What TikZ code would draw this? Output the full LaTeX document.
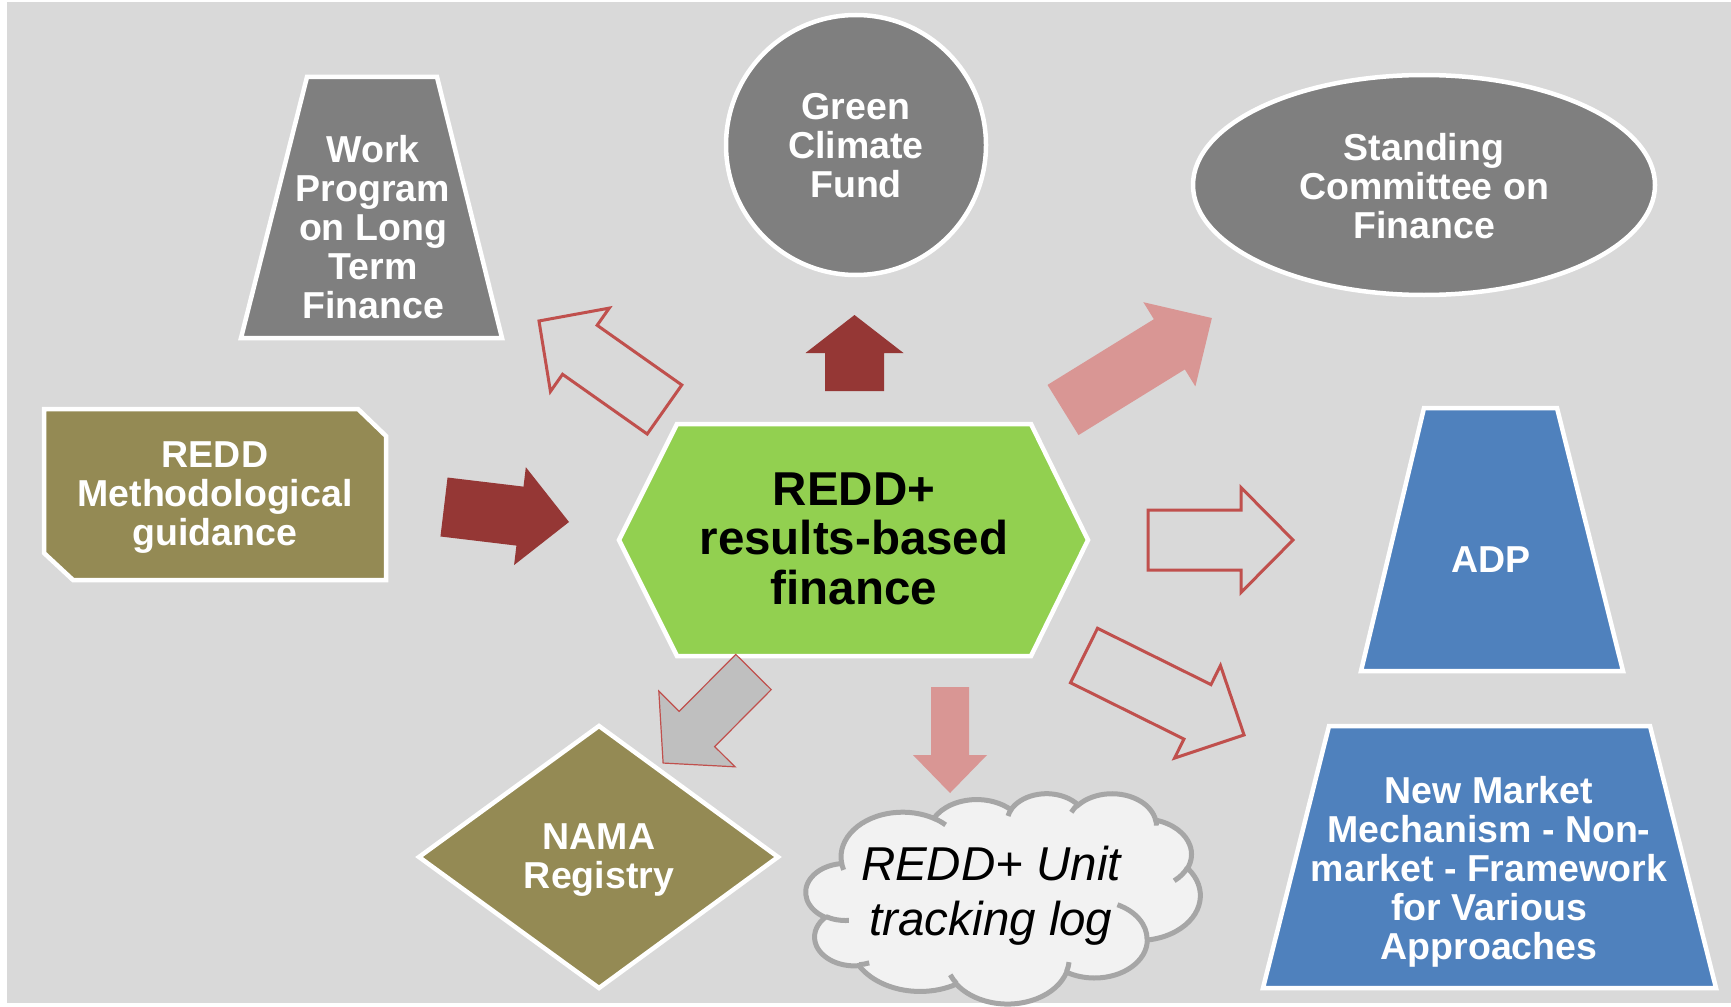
\documentclass[tikz,border=0pt]{standalone}
\usepackage{fontspec}
\setmainfont{Liberation Sans}
\usetikzlibrary{shapes.geometric}
\definecolor{bgc}{HTML}{D9D9D9}
\definecolor{grayshape}{HTML}{7F7F7F}
\definecolor{olive}{HTML}{948A54}
\definecolor{hexgreen}{HTML}{92D050}
\definecolor{bluebox}{HTML}{4F81BD}
\definecolor{darkred}{HTML}{953735}
\definecolor{pinkarr}{HTML}{D99694}
\definecolor{redline}{HTML}{C0504D}
\definecolor{grayarr}{HTML}{BFBFBF}
\definecolor{cloudfill}{HTML}{F2F2F2}
\definecolor{cloudline}{HTML}{A6A6A6}
% block arrow: #1 style, #2 x, #3 y, #4 angle, #5 length, #6 head length, #7 shaft half width, #8 head half width
\newcommand\blockarr[8]{%
  \path[#1, shift={(#2,#3)}, rotate=#4] (0,#7) -- ({#5-#6},#7) -- ({#5-#6},#8) -- (#5,0) -- ({#5-#6},-#8) -- ({#5-#6},-#7) -- (0,-#7) -- cycle;}
% elliptic arc with visual angles: #1 wR, #2 hR, #3 start, #4 sweep (degrees)
\newcommand\cldarc[4]{%
  \pgfextra{%
    \pgfmathparse{atan2((#1)*sin(#3),(#2)*cos(#3))}\global\let\cldta\pgfmathresult
    \pgfmathparse{atan2((#1)*sin((#3)+(#4)),(#2)*cos((#3)+(#4)))}\global\let\cldtb\pgfmathresult
    \pgfmathparse{mod(\cldtb-\cldta+720,360)}\global\let\cldtd\pgfmathresult
  }
  arc[start angle=\cldta, delta angle=\cldtd, x radius=#1, y radius=#2]}
\begin{document}
\begin{tikzpicture}[x=1pt,y=-1pt,
  whiteedge/.style={draw=white, line width=4.5pt, line join=miter},
  lbl/.style={text=white, font=\fontsize{37.5}{39}\selectfont\bfseries, align=center, inner sep=0pt},
  outl/.style={draw=redline, line width=3pt, line join=miter},
  grayout/.style={fill=grayarr, draw=redline, line width=1.2pt, line join=miter},
  cloudedge/.style={draw=cloudline, line width=5pt}]
\useasboundingbox (0,0) rectangle (1731,1006);
\fill[white] (0,0) rectangle (1731,1006);
\fill[bgc] (7,2) rectangle (1731,1003);

% shapes
\draw[whiteedge, fill=grayshape] (307,77) -- (437,77) -- (502,338) -- (241,338) -- cycle;
\draw[whiteedge, fill=olive] (44,409) -- (358,409) -- (386,436) -- (386,580) -- (73,580) -- (44,553) -- cycle;
\draw[whiteedge, fill=grayshape] (856,145) circle [radius=130pt];
\draw[whiteedge, fill=grayshape] (1424,185) ellipse [x radius=231pt, y radius=110pt];
\draw[whiteedge, fill=hexgreen] (619,540) -- (677,424) -- (1031,424) -- (1088,540) -- (1031,656) -- (677,656) -- cycle;
\draw[whiteedge, fill=bluebox] (1424,408) -- (1557,408) -- (1623,671) -- (1361,671) -- cycle;
\draw[whiteedge, fill=bluebox] (1329,726) -- (1650,726) -- (1716,988) -- (1263,988) -- cycle;
\draw[whiteedge, fill=olive] (599,726) -- (778,857) -- (599,988) -- (419,857) -- cycle;

% cloud
\begin{scope}[shift={(806,793)}, x=0.0091204pt, y=-0.0048611pt]
\draw[cloudedge, fill=cloudfill] (3900,14370)
  \cldarc{6753}{9190}{-190.487}{123.781}
  \cldarc{5333}{7267}{-144.102}{89.945}
  \cldarc{4365}{5945}{-145.808}{99.723}
  \cldarc{4857}{6595}{-130.986}{117.242}
  \cldarc{5333}{7273}{-78.709}{109.027}
  \cldarc{6775}{9220}{-46.267}{130.269}
  \cldarc{5785}{7867}{0.625}{114.033}
  \cldarc{6752}{9215}{22.452}{115.173}
  \cldarc{7720}{10543}{66.243}{75.711}
  \cldarc{4360}{5918}{-274.942}{146.736}
  \cldarc{4345}{5945}{-246.829}{152.519}
  -- cycle;
\draw[cloudedge]
  (4693,26177) \cldarc{4345}{5945}{86.742}{26.430}
  (6928,34899) \cldarc{4360}{5918}{73.610}{11.447}
  (16478,39090) \cldarc{6752}{9215}{137.624}{14.081}
  (28827,34751) \cldarc{6752}{9215}{6.453}{15.998}
  (34129,22954) \cldarc{5785}{7867}{-70.292}{70.917}
  (41798,15354) \cldarc{5333}{7273}{30.318}{27.752}
  (38324,5426) \cldarc{4857}{6595}{-13.744}{14.859}
  (29078,3952) \cldarc{4857}{6595}{-149.181}{18.195}
  (22141,4720) \cldarc{4365}{5945}{-163.494}{17.686}
  (14000,5192) \cldarc{6753}{9190}{-66.707}{12.319}
  (4127,15789) \cldarc{6753}{9190}{157.654}{11.858};
\end{scope}

% block arrows
\blockarr{fill=darkred}{444}{507}{-6.84}{125.9}{49.4}{29.7}{49.3}
\blockarr{fill=darkred}{854.5}{391}{90}{76}{38}{29.5}{49}
\blockarr{fill=pinkarr}{1063}{410}{31.7}{175}{50}{29.5}{49.5}
\blockarr{outl}{664.5}{409.5}{144.8}{153.6}{50}{30}{51}
\blockarr{outl}{1148}{540}{0}{145}{52}{30}{52.5}
\blockarr{outl}{1084}{655.5}{-26.4}{178.7}{52}{30.4}{51.7}
\blockarr{grayout}{753.5}{672}{225.2}{128.3}{48}{25}{53.7}
\blockarr{fill=pinkarr}{950}{687}{-90}{106}{38}{19}{37}

% labels
\node[lbl] (wp) at (373,227.5) {Work\\Program\\on Long\\Term\\Finance};
\node[lbl] (redd) at (215,497.5) {REDD\\Methodological\\guidance};
\node[lbl] (gcf) at (856,146) {Green\\Climate\\Fund};
\node[lbl] (scf) at (1424,186) {Standing\\Committee on\\Finance};
\node[lbl] (adp) at (1491,560) {ADP};
\node[lbl] (nmm) at (1489,872) {New Market\\Mechanism - Non-\\market - Framework\\for Various\\Approaches};
\node[lbl] (nama) at (599,860) {NAMA\\Registry};
\node[font=\fontsize{47.5}{49.5}\selectfont\bfseries, align=center, inner sep=0pt] (hub) at (854,538.5) {REDD+\\results-based\\finance};
\node[font=\fontsize{47.5}{55}\selectfont\itshape, align=center, inner sep=0pt] (log) at (991,896) {REDD+ Unit\\tracking log};
\end{tikzpicture}
\end{document}
